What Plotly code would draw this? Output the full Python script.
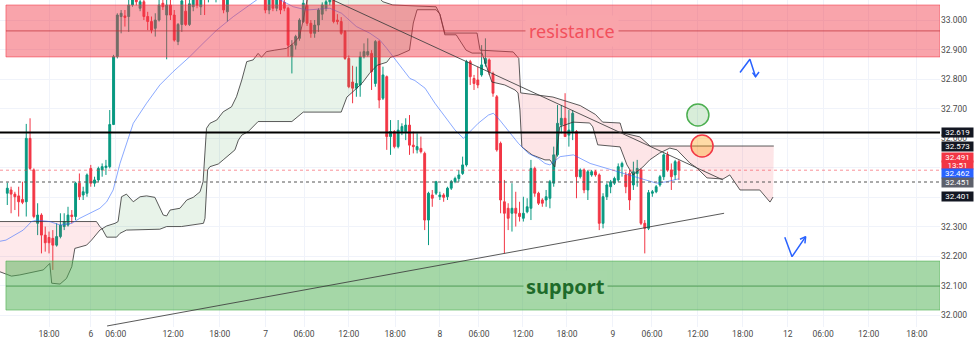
import plotly.graph_objects as go

# ---------------- candles (bar index = position on the time axis) ----------------
opens = [32.413, 32.424, 32.410, 32.404, 32.392, 32.384, 32.599, 32.492, 32.311, 32.339,
         32.271, 32.263, 32.260, 32.237, 32.266, 32.300, 32.305, 32.339, 32.334, 32.447,
         32.407, 32.413, 32.497, 32.447, 32.458, 32.492, 32.500, 32.503, 32.646, 32.876,
         33.012, 33.014, 33.012, 33.051, 33.070, 33.040, 33.062, 33.012, 32.995, 32.972,
         33.000, 33.057, 33.017, 33.051, 33.017, 32.927, 32.985, 33.030, 32.985, 33.045,
         33.080, 33.045, 33.095, 33.075, 33.110, 33.085, 33.080, 33.120, 33.028, 33.100,
         33.150, 33.110, 33.170, 33.190, 33.140, 33.100, 33.160, 33.120, 33.090, 33.034,
         33.080, 33.040, 33.075, 33.060, 33.040, 32.876, 32.915, 32.938, 32.995, 33.050,
         32.989, 32.955, 32.983, 33.020, 33.040, 33.062, 33.090, 33.000, 32.995, 32.961,
         32.870, 32.790, 32.769, 32.780, 32.876, 32.882, 32.887, 32.785, 32.927, 32.735,
         32.808, 32.605, 32.622, 32.571, 32.622, 32.622, 32.644, 32.576, 32.560, 32.565,
         32.548, 32.322, 32.407, 32.413, 32.401, 32.407, 32.401, 32.430, 32.452, 32.463,
         32.480, 32.509, 32.859, 32.802, 32.797, 32.814, 32.853, 32.865, 32.819, 32.740,
         32.582, 32.384, 32.362, 32.345, 32.362, 32.345, 32.328, 32.350, 32.362, 32.497,
         32.413, 32.390, 32.390, 32.396, 32.447, 32.543, 32.644, 32.667, 32.610, 32.622,
         32.622, 32.469, 32.492, 32.424, 32.475, 32.486, 32.475, 32.311, 32.401, 32.435,
         32.447, 32.458, 32.503, 32.475, 32.480, 32.441, 32.480, 32.492, 32.311, 32.294,
         32.413, 32.418, 32.441, 32.469, 32.543, 32.492, 32.475, 32.520]
highs = [32.449, 32.435, 32.418, 32.435, 32.452, 32.648, 32.667, 32.497, 32.379, 32.345,
         32.300, 32.283, 32.288, 32.311, 32.345, 32.345, 32.367, 32.356, 32.452, 32.480,
         32.435, 32.480, 32.509, 32.469, 32.503, 32.514, 32.526, 32.695, 32.882, 33.023,
         33.034, 33.034, 33.080, 33.095, 33.100, 33.085, 33.075, 33.028, 33.012, 33.023,
         33.068, 33.080, 33.075, 33.070, 33.034, 32.990, 33.085, 33.070, 33.075, 33.095,
         33.100, 33.110, 33.120, 33.130, 33.140, 33.130, 33.140, 33.130, 33.120, 33.160,
         33.170, 33.180, 33.200, 33.210, 33.160, 33.170, 33.180, 33.140, 33.110, 33.100,
         33.100, 33.090, 33.090, 33.080, 33.045, 32.932, 32.950, 33.006, 33.070, 33.075,
         33.000, 33.000, 33.040, 33.060, 33.075, 33.110, 33.120, 33.020, 33.010, 32.966,
         32.880, 32.845, 32.842, 32.893, 32.921, 32.938, 32.898, 32.932, 32.932, 32.842,
         32.812, 32.661, 32.627, 32.661, 32.650, 32.667, 32.678, 32.622, 32.616, 32.605,
         32.554, 32.418, 32.424, 32.455, 32.418, 32.413, 32.435, 32.458, 32.469, 32.492,
         32.537, 32.865, 32.865, 32.814, 32.842, 32.915, 32.938, 32.870, 32.825, 32.746,
         32.588, 32.458, 32.379, 32.447, 32.418, 32.384, 32.401, 32.396, 32.526, 32.503,
         32.418, 32.396, 32.424, 32.458, 32.571, 32.712, 32.712, 32.752, 32.695, 32.695,
         32.627, 32.497, 32.497, 32.492, 32.492, 32.492, 32.480, 32.413, 32.447, 32.458,
         32.469, 32.514, 32.520, 32.486, 32.492, 32.520, 32.526, 32.497, 32.322, 32.424,
         32.424, 32.441, 32.475, 32.548, 32.554, 32.514, 32.526, 32.526]
lows = [32.373, 32.345, 32.356, 32.334, 32.376, 32.334, 32.492, 32.328, 32.271, 32.209,
        32.215, 32.209, 32.153, 32.232, 32.260, 32.288, 32.300, 32.311, 32.322, 32.390,
        32.390, 32.401, 32.435, 32.435, 32.452, 32.469, 32.475, 32.497, 32.644, 32.870,
        32.955, 32.978, 32.960, 33.045, 33.050, 33.030, 33.000, 32.966, 32.955, 32.944,
        32.995, 33.034, 32.867, 33.000, 32.927, 32.915, 32.960, 32.980, 32.980, 33.030,
        33.040, 33.017, 33.017, 33.060, 33.070, 33.060, 33.070, 33.023, 32.995, 33.085,
        33.100, 33.095, 33.140, 33.130, 33.090, 33.085, 33.110, 33.075, 33.023, 33.020,
        33.030, 33.030, 33.020, 33.030, 32.876, 32.819, 32.900, 32.930, 32.990, 32.980,
        32.940, 32.940, 32.960, 33.000, 33.030, 33.050, 32.989, 32.985, 32.950, 32.865,
        32.769, 32.718, 32.740, 32.740, 32.870, 32.876, 32.763, 32.774, 32.701, 32.729,
        32.560, 32.543, 32.565, 32.565, 32.610, 32.593, 32.543, 32.548, 32.548, 32.548,
        32.288, 32.237, 32.367, 32.407, 32.390, 32.384, 32.390, 32.424, 32.447, 32.452,
        32.475, 32.503, 32.780, 32.763, 32.769, 32.808, 32.842, 32.814, 32.740, 32.554,
        32.345, 32.209, 32.288, 32.283, 32.300, 32.317, 32.317, 32.345, 32.322, 32.401,
        32.373, 32.367, 32.367, 32.362, 32.435, 32.537, 32.616, 32.605, 32.571, 32.593,
        32.396, 32.463, 32.413, 32.390, 32.469, 32.469, 32.288, 32.294, 32.390, 32.413,
        32.441, 32.452, 32.469, 32.413, 32.356, 32.424, 32.435, 32.305, 32.209, 32.288,
        32.401, 32.413, 32.435, 32.458, 32.486, 32.424, 32.458, 32.458]
closes = [32.430, 32.410, 32.401, 32.384, 32.382, 32.599, 32.497, 32.334, 32.339, 32.271,
          32.245, 32.245, 32.237, 32.266, 32.305, 32.317, 32.339, 32.334, 32.447, 32.401,
          32.418, 32.475, 32.447, 32.458, 32.497, 32.503, 32.505, 32.646, 32.876, 33.017,
          33.023, 33.009, 33.051, 33.070, 33.062, 33.062, 33.012, 32.995, 32.966, 33.000,
          33.051, 33.045, 33.051, 33.017, 32.932, 32.985, 33.065, 32.985, 33.055, 33.080,
          33.050, 33.090, 33.075, 33.110, 33.085, 33.120, 33.120, 33.034, 33.100, 33.150,
          33.110, 33.170, 33.190, 33.140, 33.100, 33.160, 33.120, 33.090, 33.034, 33.080,
          33.040, 33.075, 33.034, 33.040, 32.915, 32.915, 32.944, 33.000, 33.057, 32.989,
          32.955, 32.983, 33.034, 33.051, 33.062, 33.090, 32.995, 32.995, 32.955, 32.870,
          32.774, 32.769, 32.785, 32.876, 32.893, 32.893, 32.825, 32.927, 32.729, 32.814,
          32.605, 32.622, 32.571, 32.627, 32.639, 32.644, 32.576, 32.571, 32.571, 32.554,
          32.322, 32.413, 32.396, 32.452, 32.407, 32.399, 32.430, 32.452, 32.463, 32.475,
          32.509, 32.859, 32.808, 32.785, 32.780, 32.848, 32.870, 32.825, 32.752, 32.560,
          32.390, 32.345, 32.328, 32.362, 32.345, 32.334, 32.345, 32.367, 32.497, 32.413,
          32.379, 32.379, 32.401, 32.452, 32.543, 32.650, 32.667, 32.605, 32.627, 32.684,
          32.469, 32.492, 32.424, 32.486, 32.486, 32.475, 32.311, 32.401, 32.441, 32.452,
          32.463, 32.503, 32.514, 32.435, 32.390, 32.486, 32.497, 32.311, 32.294, 32.415,
          32.418, 32.435, 32.469, 32.543, 32.492, 32.469, 32.520, 32.491]
bars = list(range(len(opens)))

# ---------------- moving average (blue) ----------------
ma_x = [-2, -0.35, 4.2, 6.4, 7.7, 11.2, 13.9, 17, 19.1, 21.8, 24.4, 26.2, 27.9, 29.7, 31.4,
        33.2, 36.7, 40.2, 43.7, 48.1, 51.6, 55.2, 59.6, 63.1, 65.7, 68, 71, 73.6, 75.4,
        78.9, 85, 88.1, 92, 95.6, 98.2, 100, 102.6, 106.1, 107.4, 110.1, 112.7, 115.3,
        118, 120.2, 121.5, 124.1, 126.8, 128.1, 129.4, 132, 134.7, 137.3, 140, 141.7,
        143, 145.7, 149.2, 153.6, 158, 162.4, 166.8, 171.1, 173.8, 177]
ma_y = [32.250, 32.254, 32.288, 32.317, 32.322, 32.317, 32.305, 32.311, 32.328, 32.345,
        32.362, 32.384, 32.424, 32.514, 32.582, 32.650, 32.718, 32.780, 32.825, 32.876,
        32.921, 32.966, 33.012, 33.045, 33.068, 33.085, 33.075, 33.057, 33.045, 33.034,
        33.040, 33.023, 32.978, 32.955, 32.932, 32.904, 32.859, 32.802, 32.795, 32.769,
        32.718, 32.672, 32.627, 32.599, 32.616, 32.650, 32.678, 32.684, 32.667, 32.627,
        32.582, 32.548, 32.531, 32.514, 32.509, 32.537, 32.543, 32.514, 32.497, 32.480,
        32.463, 32.447, 32.452, 32.462]

# ---------------- ichimoku cloud spans ----------------
span_a_x = [-2, 1.1, 3.3, 6.4, 9.5, 11.2, 11.7, 13.9, 15.6, 17, 17.8, 20.9, 22.2, 24.4, 25,
            26.2, 28.4, 29.2, 30.1, 31.4, 33.2, 35, 36.7, 38.9, 41.1, 42, 42.9, 45.5, 47.3,
            49, 50.8, 51.6, 52.5, 53.4, 55.2, 56.9, 59.1, 60.4, 61.8, 63.1, 64.8, 66.1, 67,
            68.3, 70.5, 73.6, 75.4, 77, 78, 79, 80, 97, 98.5, 99, 101.6, 113, 114,
            115.3, 118.3, 120.9, 122.5, 125.1, 127.7, 131.1, 133.8, 134.6, 135.1, 135.6,
            138.3, 141.7, 143, 144.3, 145.6, 149.1, 153.5, 154.3, 155.6, 161.5,
            163.3, 164.9, 167.5, 169.3, 171.9, 174.6, 176.5, 179.9, 181.7, 184.4, 188.6,
            190.4, 193.1, 198.3, 201, 201.8]
span_a_y = [32.147, 32.132, 32.136, 32.144, 32.153, 32.175, 32.108, 32.105, 32.124, 32.164,
            32.226, 32.237, 32.254, 32.288, 32.292, 32.302, 32.311, 32.317, 32.401, 32.410,
            32.384, 32.401, 32.404, 32.399, 32.339, 32.336, 32.356, 32.362, 32.390, 32.399,
            32.418, 32.452, 32.633, 32.650, 32.661, 32.689, 32.706, 32.740, 32.797, 32.859,
            32.865, 32.887, 32.874, 32.893, 32.898, 32.904, 32.921, 32.944, 33.000, 33.068,
            33.100, 33.100, 33.068, 33.062, 33.051, 33.045, 33.020,
            32.950, 32.950, 32.898, 32.888, 32.888, 32.790, 32.780, 32.763, 32.753, 32.695,
            32.570, 32.543, 32.526, 32.526, 32.502, 32.638, 32.654, 32.651,
            32.638, 32.577, 32.570, 32.509, 32.475, 32.502, 32.526, 32.549, 32.566, 32.560,
            32.515, 32.499, 32.465, 32.461, 32.475, 32.424, 32.424, 32.383, 32.400]
span_b_x = [-2, 23.5, 24.4, 25, 26.2, 28.8, 29.7, 31.4, 40.2, 42, 45.9, 50.8, 51.7, 52.1,
            52.8, 53.4, 55.6, 56.9, 59.1, 60, 60.9, 61.8, 63.5, 64.8, 66.1, 75, 77, 78, 88,
            89.5, 91, 93.5, 95.5, 97.5, 100, 101, 103, 106, 107, 108, 113, 114, 115.3, 123.8,
            124.6, 133.3, 134.8, 135.3, 143.8, 147, 151, 155, 156.9, 161.5, 162.3, 166.7,
            169.4, 202]
span_b_y = [32.317, 32.317, 32.300, 32.292, 32.264, 32.264, 32.277, 32.288, 32.291, 32.300,
            32.300, 32.311, 32.311, 32.328, 32.492, 32.503, 32.512, 32.526, 32.548, 32.560,
            32.593, 32.610, 32.622, 32.639, 32.656, 32.656, 32.678, 32.688, 32.688, 32.739,
            32.756, 32.786, 32.820, 32.847, 32.857, 32.874, 32.881, 32.898, 32.990, 33.035,
            33.035, 33.020, 32.956, 32.956, 32.898, 32.892, 32.870, 32.753, 32.739, 32.725,
            32.710, 32.680, 32.654, 32.651, 32.617, 32.604, 32.573, 32.573]
cloud_regions = [(-2, 25, "rgba(242,54,69,0.11)"), (25, 114, "rgba(67,160,71,0.12)"),
                 (114, 202, "rgba(242,54,69,0.13)")]

# ---------------- drawings ----------------
resistance = (32.875, 33.051, 32.963)
support = (32.017, 32.183, 32.098)
zone_left = -0.35
level_line = 32.619
dotted_level = 32.451
last_price_level = 32.491
trend_down_x, trend_down_y = [85.8, 188.6], [33.068, 32.458]
trend_up_x, trend_up_y = [26.3, 188.9], [31.963, 32.345]
green_circle = (182.0, 32.678)
red_circle = (183.1, 32.573)
arrow1_x, arrow1_y = [193.1, 195.7, 197.2], [32.822, 32.867, 32.808]
arrow1_head_x, arrow1_head_y = [196.4, 197.2, 198.1], [32.822, 32.808, 32.824]
arrow2_x, arrow2_y = [204.9, 206.8, 210.4], [32.264, 32.198, 32.266]
arrow2_head_x, arrow2_head_y = [208.9, 210.4, 210.2], [32.257, 32.266, 32.243]

tick_pos = [11, 22, 28.6, 43.7, 56, 68.1, 78.2, 90, 102.2, 114, 124.3, 135.9, 147.5,
            159.6, 169.9, 182, 193.8, 205.7, 215, 227, 239.7]
tick_text = ["18:00", "6", "06:00", "12:00", "18:00", "7", "06:00", "12:00", "18:00", "8",
             "06:00", "12:00", "18:00", "9", "06:00", "12:00", "18:00", "12", "06:00",
             "12:00", "18:00"]
price_ticks = [32.0, 32.1, 32.2, 32.3, 32.4, 32.5, 32.6, 32.7, 32.8, 32.9, 33.0]
# 32.400 / 32.500 labels sit fully under the price badges in the reference
price_tick_text = ["32.000", "32.100", "32.200", "32.300", "", "", "32.600", "32.700",
                   "32.800", "32.900", "33.000"]

# axis badges: (price, text, background, pixel shift to avoid overlap, box height)
badges = [(32.619, "32.619", "#131722", 0, 9), (32.573, "32.573", "#131722", 0, 9),
          (32.491, "13:51", "#F23645", 5.5, 8), (32.491, "32.491", "#F23645", 12.7, 9),
          (32.462, "32.462", "#2962FF", 5.3, 9), (32.451, "32.451", "#5d606b", 0, 9),
          (32.401, "32.401", "#131722", 0, 9)]

X_RANGE = [-1.92, 245.8]
Y_RANGE = [31.9595, 33.068]

fig = go.Figure()


def seg(xs, ys, x0, x1):
    return [(x, y) for x, y in zip(xs, ys) if x0 <= x <= x1]


for x0, x1, col in cloud_regions:
    a = seg(span_a_x, span_a_y, x0, x1)
    b = seg(span_b_x, span_b_y, x0, x1)[::-1]
    pts = a + b
    fig.add_trace(go.Scatter(x=[p[0] for p in pts], y=[p[1] for p in pts], fill="toself",
                             fillcolor=col, mode="lines", line=dict(width=0),
                             hoverinfo="skip", showlegend=False))

for xs, ys in [(span_a_x, span_a_y), (span_b_x, span_b_y)]:
    fig.add_trace(go.Scatter(x=xs, y=ys, mode="lines",
                             line=dict(color="rgba(50,50,50,0.8)", width=1),
                             hoverinfo="skip", showlegend=False))

fig.add_trace(go.Scatter(x=ma_x, y=ma_y, mode="lines",
                         line=dict(color="rgba(41,98,255,0.55)", width=1),
                         hoverinfo="skip", showlegend=False))

fig.add_trace(go.Candlestick(
    x=bars, open=opens, high=highs, low=lows, close=closes,
    increasing=dict(line=dict(color="#089981", width=1), fillcolor="#089981"),
    decreasing=dict(line=dict(color="#F23645", width=1), fillcolor="#F23645"),
    whiskerwidth=0, showlegend=False, hoverinfo="skip"))

# arrows
for xs, ys in [(arrow1_x, arrow1_y), (arrow1_head_x, arrow1_head_y),
               (arrow2_x, arrow2_y), (arrow2_head_x, arrow2_head_y)]:
    fig.add_trace(go.Scatter(x=xs, y=ys, mode="lines",
                             line=dict(color="#2962FF", width=1.5),
                             hoverinfo="skip", showlegend=False))

shapes = []
# zones
for (lo, hi, mid), fill, edge, midc in [
        (resistance, "rgba(242,54,69,0.45)", "rgba(242,54,69,0.55)", "rgba(190,40,50,0.55)"),
        (support, "rgba(76,175,80,0.5)", "rgba(76,175,80,0.6)", "rgba(56,142,60,0.6)")]:
    shapes.append(dict(type="rect", xref="x", yref="y", x0=zone_left, x1=X_RANGE[1],
                       y0=lo, y1=hi, fillcolor=fill, line=dict(color=edge, width=1),
                       layer="above"))
    shapes.append(dict(type="line", xref="x", yref="y", x0=zone_left, x1=X_RANGE[1],
                       y0=mid, y1=mid, line=dict(color=midc, width=1.3), layer="above"))
# horizontal levels
shapes.append(dict(type="line", xref="paper", yref="y", x0=0, x1=1, y0=last_price_level,
                   y1=last_price_level, line=dict(color="rgba(242,54,69,0.55)", width=1,
                                                  dash="dot"), layer="above"))
shapes.append(dict(type="line", xref="paper", yref="y", x0=0, x1=1, y0=dotted_level,
                   y1=dotted_level, line=dict(color="#555555", width=1, dash="dot"),
                   layer="above"))
shapes.append(dict(type="line", xref="paper", yref="y", x0=0, x1=1, y0=level_line,
                   y1=level_line, line=dict(color="#000000", width=2), layer="above"))
# trend lines
for xs, ys in [(trend_down_x, trend_down_y), (trend_up_x, trend_up_y)]:
    shapes.append(dict(type="line", xref="x", yref="y", x0=xs[0], x1=xs[1], y0=ys[0],
                       y1=ys[1], line=dict(color="rgba(60,60,60,0.85)", width=1),
                       layer="above"))
# circles
rx, ry = 2.9, 0.0373
shapes.append(dict(type="circle", xref="x", yref="y", x0=green_circle[0] - rx,
                   x1=green_circle[0] + rx, y0=green_circle[1] - ry, y1=green_circle[1] + ry,
                   fillcolor="rgba(76,175,80,0.22)", line=dict(color="#4CAF50", width=1.5),
                   layer="above"))
shapes.append(dict(type="circle", xref="x", yref="y", x0=red_circle[0] - rx,
                   x1=red_circle[0] + rx, y0=red_circle[1] - ry, y1=red_circle[1] + ry,
                   fillcolor="rgba(255,152,0,0.35)", line=dict(color="#F23645", width=1.5),
                   layer="above"))

annotations = [
    dict(x=148.8, y=resistance[2], xref="x", yref="y", text="resistance", showarrow=False,
         font=dict(family="Noto Sans", size=18, color="#F2505C"),
         bgcolor="rgb(249,165,171)", borderpad=3),
    dict(x=147.2, y=support[2], xref="x", yref="y", text="<b>support</b>", showarrow=False,
         font=dict(family="Noto Sans", size=20, color="#1E6B2A"),
         bgcolor="rgb(166,215,168)", borderpad=2),
]
for price, txt, bg, shift, h in badges:
    annotations.append(dict(x=1, xref="paper", xanchor="left", xshift=1, y=price, yref="y",
                            yshift=shift, text=txt, showarrow=False, bgcolor=bg, width=31,
                            height=h, font=dict(family="Roboto", size=8, color="#ffffff"),
                            borderpad=0))

fig.update_layout(
    width=974, height=350, margin=dict(l=0, r=34, t=0, b=23),
    paper_bgcolor="#ffffff", plot_bgcolor="#ffffff", showlegend=False, hovermode=False,
    shapes=shapes, annotations=annotations,
    xaxis=dict(range=X_RANGE, tickvals=tick_pos, ticktext=tick_text, showgrid=True,
               gridcolor="#f0f3fa", zeroline=False, rangeslider=dict(visible=False),
               tickfont=dict(family="Roboto", size=8.5, color="#4a4a4a"), ticks="",
               showline=False),
    yaxis=dict(range=Y_RANGE, side="right", tickvals=price_ticks,
               ticktext=price_tick_text, showgrid=True,
               gridcolor="#f0f3fa", zeroline=False,
               tickfont=dict(family="Roboto", size=8.5, color="#4a4a4a"), ticks="",
               showline=False),
)

fig.write_html("out.html")
